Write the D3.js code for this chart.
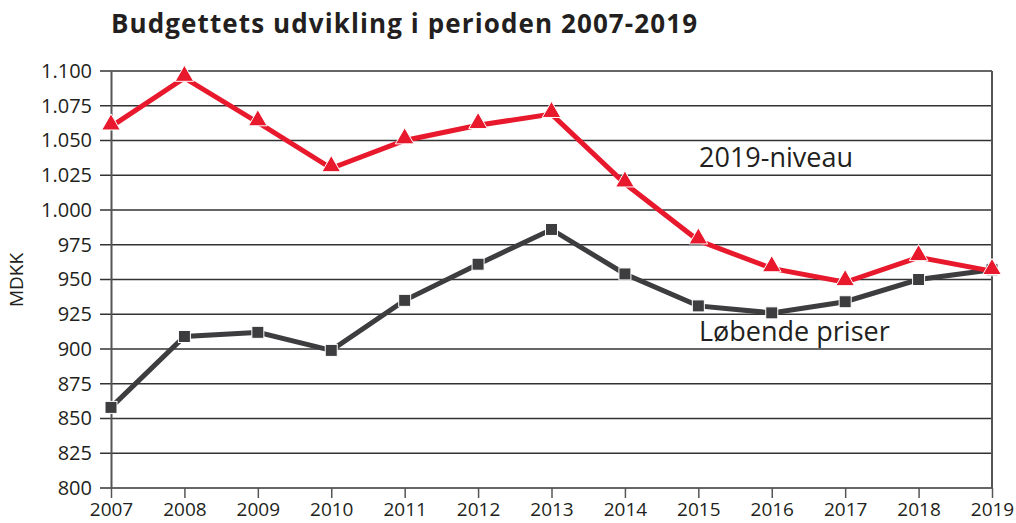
<!DOCTYPE html>
<html>
<head>
<meta charset="utf-8">
<script src="https://cdn.jsdelivr.net/npm/d3@7"></script>
<style>
  body { margin: 0; background: #fff; }
  svg { display: block; font-family: "Open Sans", "Noto Sans", sans-serif; }
</style>
</head>
<body>
<svg width="1016" height="523"></svg>
<script>
// Data
const years = [2007, 2008, 2009, 2010, 2011, 2012, 2013, 2014, 2015, 2016, 2017, 2018, 2019];
const niveau2019 = [1060, 1095, 1063, 1030, 1050, 1061, 1069, 1019, 978, 958, 948, 966, 956];
const loebende = [858, 909, 912, 899, 935, 961, 986, 954, 931, 926, 934, 950, 957];
const yTicks = [800, 825, 850, 875, 900, 925, 950, 975, 1000, 1025, 1050, 1075, 1100];

const svg = d3.select("svg");

// plot area
const plotLeft = 111, plotRight = 992, plotTop = 71, plotBottom = 488;

const x = d3.scalePoint().domain(years).range([plotLeft, plotRight]);
const y = d3.scaleLinear().domain([800, 1100]).range([plotBottom, plotTop]);

const fmt = v => d3.format(",")(v).replace(",", ".");

// title
svg.append("text")
    .attr("x", 111).attr("y", 33)
    .attr("font-size", 26).attr("font-weight", "bold")
    .attr("letter-spacing", 1.1)
    .attr("fill", "#231f20")
    .text("Budgettets udvikling i perioden 2007-2019");

// horizontal gridlines
svg.append("g")
    .selectAll("line")
    .data(yTicks)
    .join("line")
    .attr("x1", plotLeft - 11).attr("x2", plotRight)
    .attr("y1", d => y(d)).attr("y2", d => y(d))
    .attr("stroke", "#333").attr("stroke-width", 1.5);

// y axis
const yAxis = svg.append("g")
    .attr("transform", `translate(${plotLeft},0)`)
    .call(d3.axisLeft(y).tickValues(yTicks).tickFormat(fmt).tickSize(0).tickPadding(19));
yAxis.select(".domain").attr("stroke", "#555").attr("stroke-width", 2);
yAxis.selectAll("text").attr("font-size", 20).attr("fill", "#231f20")
    .attr("font-family", "'Open Sans', sans-serif");

// x axis
const xAxis = svg.append("g")
    .attr("transform", `translate(0,${plotBottom})`)
    .call(d3.axisBottom(x).tickSize(10).tickPadding(5));
xAxis.select(".domain").remove();
xAxis.selectAll("line").attr("stroke", "#555").attr("stroke-width", 1.5);
xAxis.selectAll("text").attr("font-size", 19).attr("fill", "#231f20")
    .attr("font-family", "'Open Sans', sans-serif");

// right border
svg.append("line")
    .attr("x1", plotRight).attr("x2", plotRight)
    .attr("y1", plotTop).attr("y2", plotBottom)
    .attr("stroke", "#555").attr("stroke-width", 2);

// y label
svg.append("text")
    .attr("transform", "translate(23,280) rotate(-90)")
    .attr("text-anchor", "middle")
    .attr("font-size", 19).attr("fill", "#231f20")
    .text("MDKK");

const line = d3.line().x((d, i) => x(years[i])).y(d => y(d));

// Løbende priser
svg.append("path")
    .datum(loebende)
    .attr("d", line)
    .attr("fill", "none").attr("stroke", "#3d3d3f").attr("stroke-width", 5);
svg.append("g")
    .selectAll("rect")
    .data(loebende)
    .join("rect")
    .attr("x", (d, i) => x(years[i]) - 6).attr("y", d => y(d) - 6)
    .attr("width", 12).attr("height", 12)
    .attr("fill", "#3d3d3f").attr("stroke", "#fff").attr("stroke-width", 1);

// 2019-niveau
svg.append("path")
    .datum(niveau2019)
    .attr("d", line)
    .attr("fill", "none").attr("stroke", "#e8192c").attr("stroke-width", 5);
const tri = d3.symbol().type(d3.symbolTriangle).size(150);
svg.append("g")
    .selectAll("path")
    .data(niveau2019)
    .join("path")
    .attr("d", tri)
    .attr("transform", (d, i) => `translate(${x(years[i])},${y(d) - 2})`)
    .attr("fill", "#e8192c").attr("stroke", "#fff").attr("stroke-width", 1);

// series labels
svg.append("text")
    .attr("x", 699).attr("y", 167)
    .attr("font-size", 27).attr("fill", "#231f20")
    .text("2019-niveau");
svg.append("text")
    .attr("x", 699).attr("y", 341)
    .attr("font-size", 27).attr("fill", "#231f20")
    .text("Løbende priser");
</script>
</body>
</html>
